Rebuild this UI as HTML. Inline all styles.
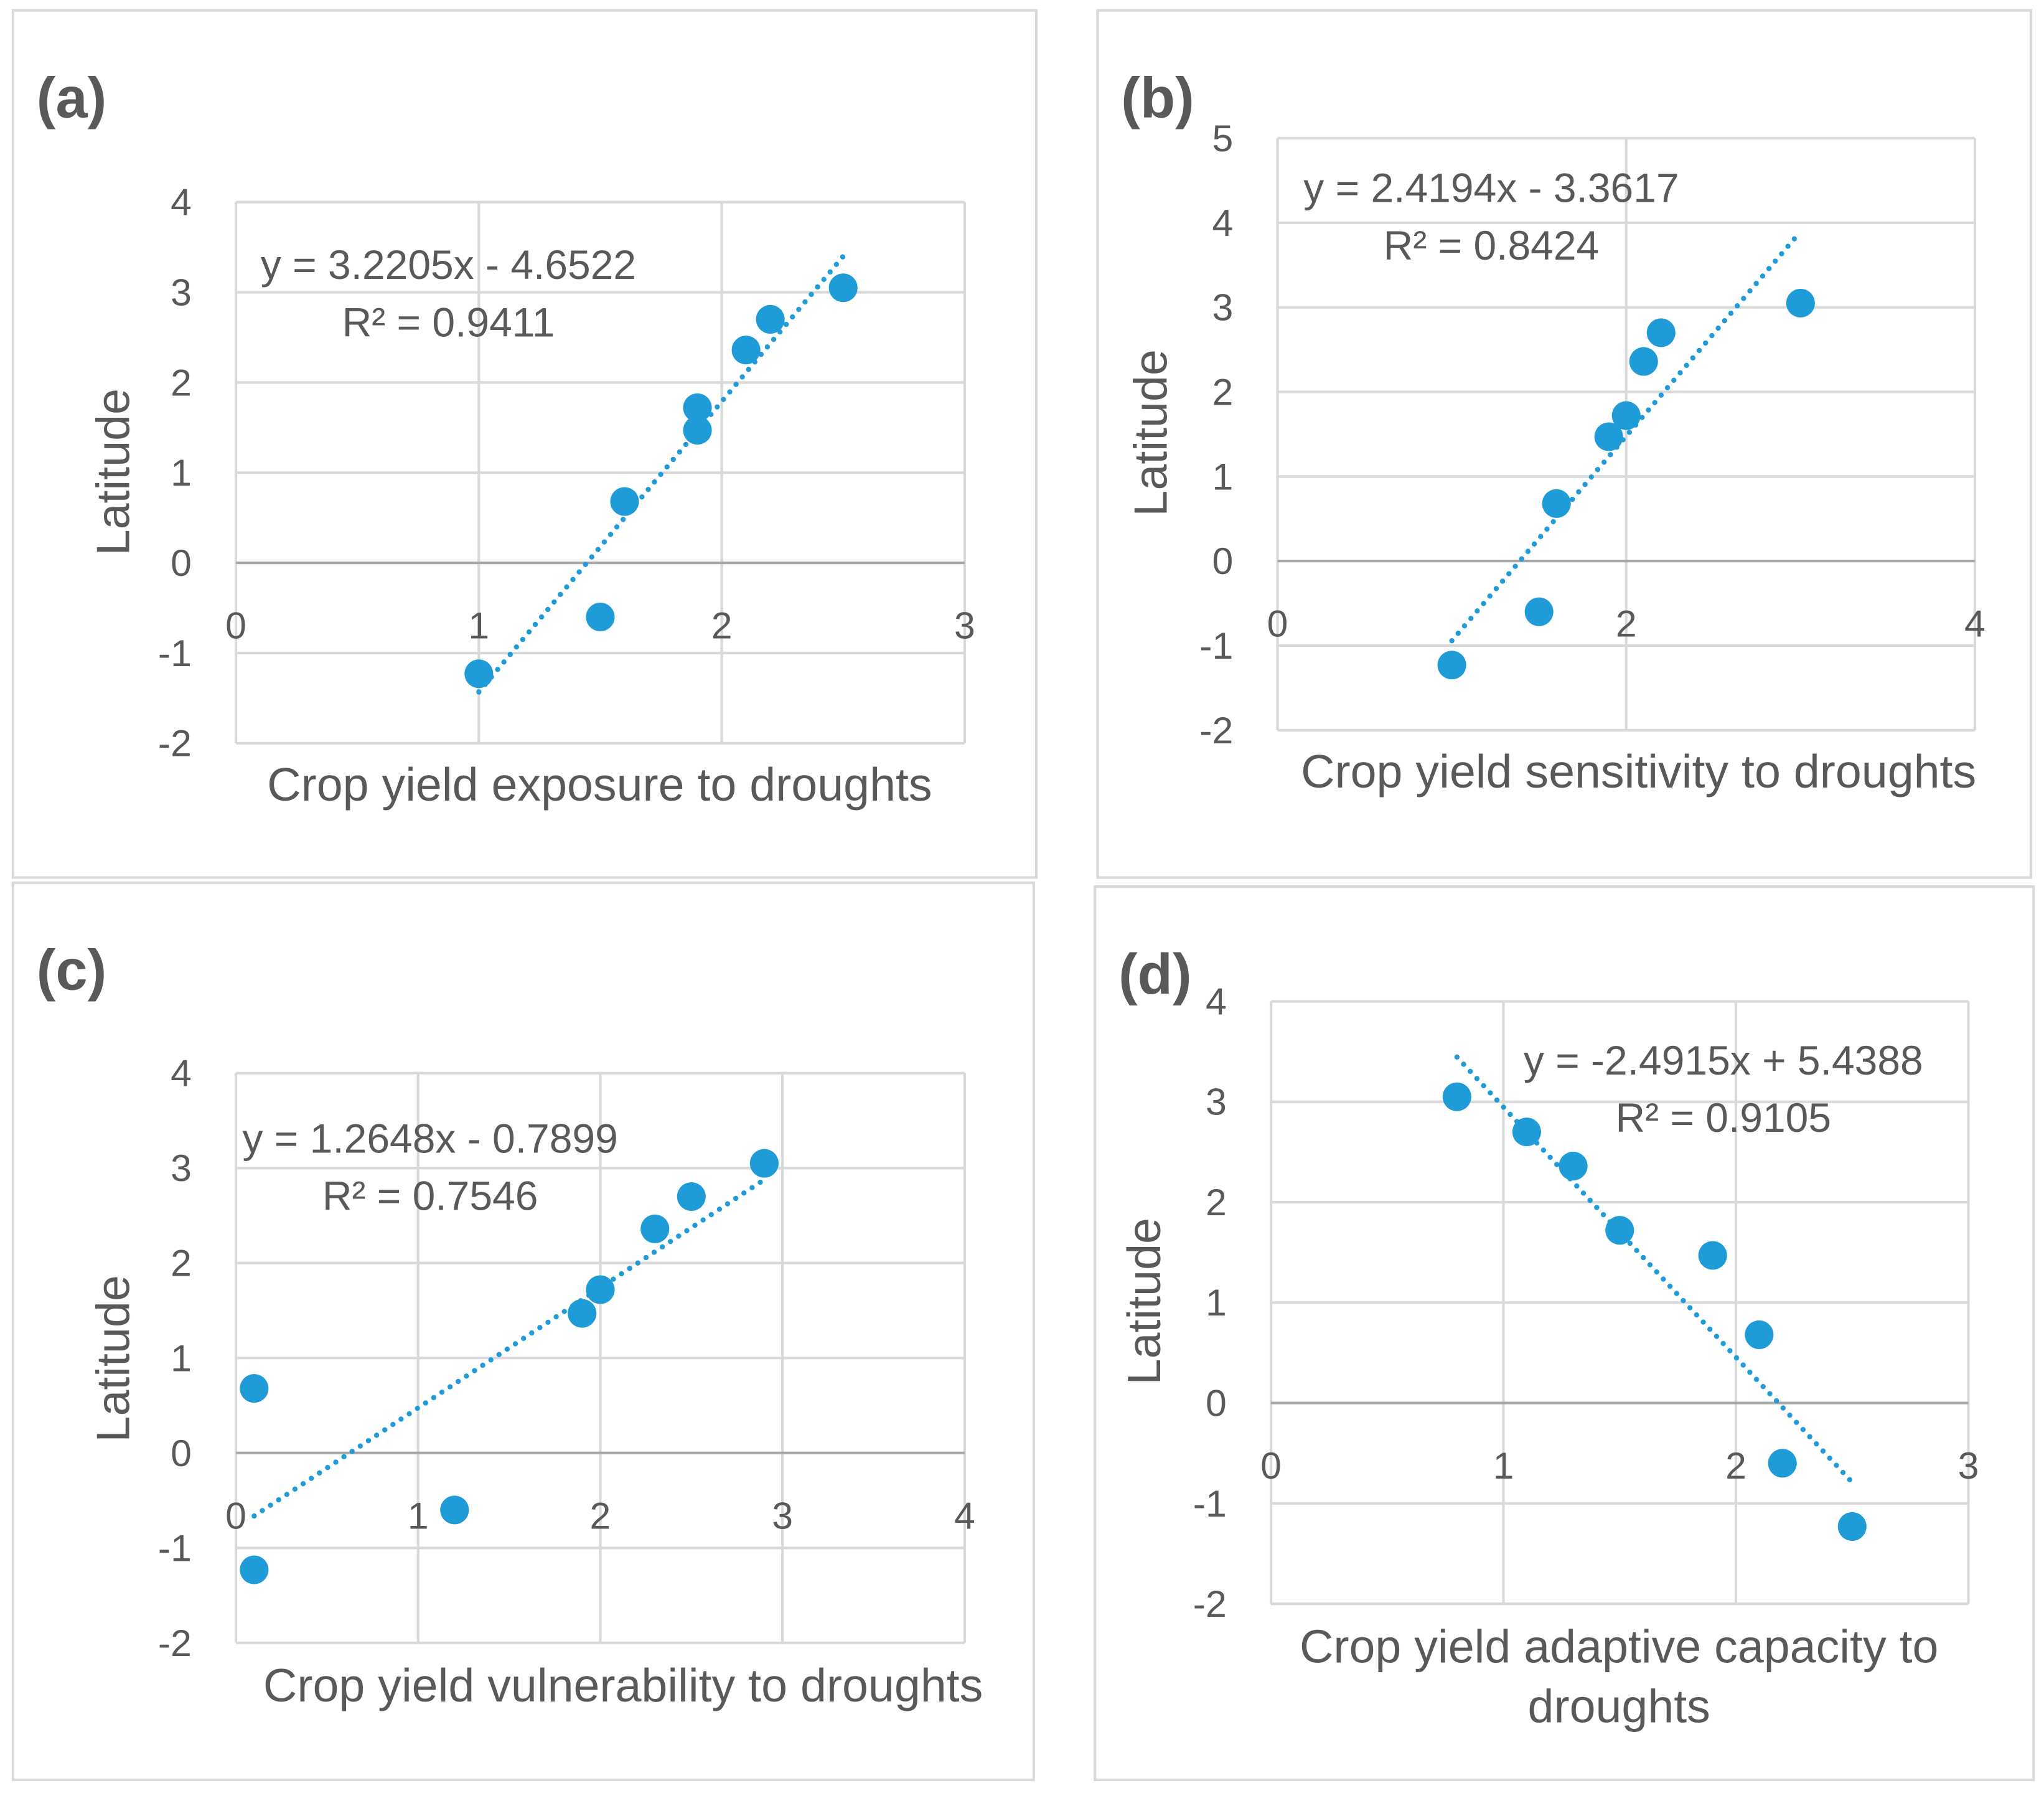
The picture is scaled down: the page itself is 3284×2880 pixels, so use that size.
<!DOCTYPE html>
<html><head><meta charset="utf-8"><style>
html,body{margin:0;padding:0;background:#fff}
svg{display:block}
text{font-family:"Liberation Sans",sans-serif;fill:#595959}
</style></head><body>
<svg id="fig" width="3284" height="2880" viewBox="0 0 1568 1375.1" preserveAspectRatio="none" xmlns="http://www.w3.org/2000/svg"></svg>
<script>
// Data
const latitude = [-1.23, -0.6, 0.68, 1.47, 1.72, 2.36, 2.7, 3.05];
const exposure = [1.0, 1.5, 1.6, 1.9, 1.9, 2.1, 2.2, 2.5];
const sensitivity = [1.0, 1.5, 1.6, 1.9, 2.0, 2.1, 2.2, 3.0];
const vulnLat = [-1.23, 0.68, -0.6, 1.47, 1.72, 2.36, 2.7, 3.05];
const vulnerability = [0.1, 0.1, 1.2, 1.9, 2.0, 2.3, 2.5, 2.9];
const adaptLat = [3.05, 2.7, 2.36, 1.72, 1.47, 0.68, -0.6, -1.23];
const adaptive = [0.8, 1.1, 1.3, 1.5, 1.9, 2.1, 2.2, 2.5];
const trendA = [3.2205, -4.6522], trendB = [2.4194, -3.3617], trendC = [1.2648, -0.7899], trendD = [-2.4915, 5.4388];
const xTicksA = [0,1,2,3], xTicksB = [0,2,4], xTicksC = [0,1,2,3,4], xTicksD = [0,1,2,3];
const yTicksA = [-2,-1,0,1,2,3,4], yTicksB = [-2,-1,0,1,2,3,4,5];

const NS = "http://www.w3.org/2000/svg";
const svg = document.getElementById('fig');
function mk(tag, attrs, parent, txt){
  const e = document.createElementNS(NS, tag);
  for (const k in attrs) e.setAttribute(k, attrs[k]);
  if (txt !== undefined) e.textContent = txt;
  (parent||svg).appendChild(e); return e;
}
function panel(o){
  const g = mk('g', {});
  
  
  const box = mk('rect', {x:o.box[0], y:o.box[1], width:o.box[2]-o.box[0], height:o.box[3]-o.box[1], fill:'none', stroke:'#d9d9d9', 'stroke-width':2}, g);
  
  
  const [x0,x1,y0,y1] = o.plot;
  const xmin=o.xt[0], xmax=o.xt[o.xt.length-1], ymin=o.yt[0], ymax=o.yt[o.yt.length-1];
  const X = v => x0 + (v-xmin)/(xmax-xmin)*(x1-x0);
  const Y = v => y1 - (v-ymin)/(ymax-ymin)*(y1-y0);
  o.xt.forEach(t=>{
    const l = mk('line',{x1:X(t),x2:X(t),y1:y0,y2:y1,stroke:'#d9d9d9','stroke-width':2},g);
    
    
    const tx = mk('text',{x:X(t),y:Y(0)+58,'font-size':29,'text-anchor':'middle'},g,String(t));
    
    
  });
  o.yt.forEach(t=>{
    const l = mk('line',{x1:x0,x2:x1,y1:Y(t),y2:Y(t),stroke:t===0?'#a6a6a6':'#d9d9d9','stroke-width':2},g);
    
    
    const tx = mk('text',{x:x0-34,y:Y(t)+10,'font-size':29,'text-anchor':'end'},g,String(t));
    
    
  });
  const tr = mk('line',{x1:X(o.tx[0]),y1:Y(o.trend[0]*o.tx[0]+o.trend[1]),x2:X(o.tx[1]),y2:Y(o.trend[0]*o.tx[1]+o.trend[1]),stroke:'#1f9bd8','stroke-width':4,'stroke-dasharray':'0 7.5','stroke-linecap':'round'},g);
  
  
  o.xs.forEach((v,i)=>{
    const c = mk('circle',{cx:X(v),cy:Y(o.ys[i]),r:11,fill:'#1f9bd8'},g);
    
    
  });
  const lab = mk('text',{x:o.box[0]+18,y:o.box[1]+82,'font-size':44,'font-weight':'bold',fill:'#757575'},g,'('+o.id+')');
  
  
  const e1 = mk('text',{x:o.eq[0],y:o.eq[1],'font-size':31.5,'text-anchor':'middle'},g,o.eqText);
  
  
  const e2 = mk('text',{x:o.eq[0],y:o.eq[1]+44,'font-size':31.5,'text-anchor':'middle'},g,o.r2);
  
  
  const yt = mk('text',{x:0,y:0,'font-size':36,'text-anchor':'middle',transform:`translate(${o.ytitle[0]},${o.ytitle[1]}) rotate(-90)`},g,'Latitude');
  
  
  o.xtitle.forEach((s,i)=>{
    const t = mk('text',{x:o.xtPos[0],y:o.xtPos[1]+i*46,'font-size':36,'text-anchor':'middle'},g,s);
    
    
  });
}
panel({id:'a',box:[10,8,795,673],plot:[181,740,155,570],xt:xTicksA,yt:yTicksA,xs:exposure,ys:latitude,trend:trendA,tx:[1,2.5],
  eq:[344,214],eqText:'y = 3.2205x - 4.6522',r2:'R² = 0.9411',ytitle:[99,362],xtitle:['Crop yield exposure to droughts'],xtPos:[460,614]});
panel({id:'b',box:[842,8,1558,673],plot:[980,1515,106,560],xt:xTicksB,yt:yTicksB,xs:sensitivity,ys:latitude,trend:trendB,tx:[1,3],
  eq:[1144,155],eqText:'y = 2.4194x - 3.3617',r2:'R² = 0.8424',ytitle:[895,332],xtitle:['Crop yield sensitivity to droughts'],xtPos:[1257,604]});
panel({id:'c',box:[10,677,793,1365],plot:[181,740,823,1260],xt:xTicksC,yt:yTicksA,xs:vulnerability,ys:vulnLat,trend:trendC,tx:[0.1,2.9],
  eq:[330,884],eqText:'y = 1.2648x - 0.7899',r2:'R² = 0.7546',ytitle:[99,1042],xtitle:['Crop yield vulnerability to droughts'],xtPos:[478,1305]});
panel({id:'d',box:[840,680,1560,1365],plot:[975,1510,768,1230],xt:xTicksD,yt:yTicksA,xs:adaptive,ys:adaptLat,trend:trendD,tx:[0.8,2.5],
  eq:[1322,824],eqText:'y = -2.4915x + 5.4388',r2:'R² = 0.9105',ytitle:[890,998],xtitle:['Crop yield adaptive capacity to','droughts'],xtPos:[1242,1275]});
</script>
</body></html>
